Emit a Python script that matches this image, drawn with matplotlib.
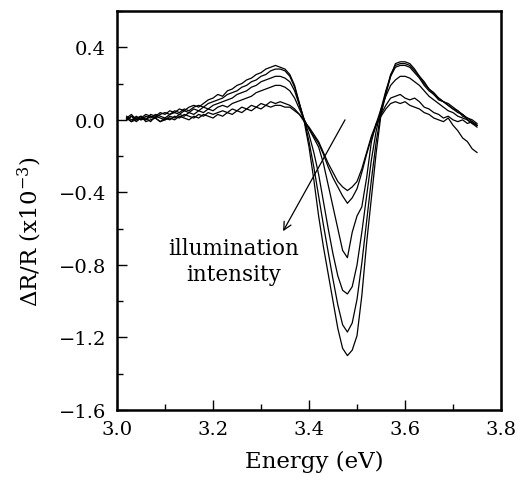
import numpy as np
import matplotlib.pyplot as plt
from matplotlib.ticker import MultipleLocator, FuncFormatter

# photon energy (eV)
energy = [3.02, 3.03, 3.04, 3.05, 3.06, 3.07, 3.08, 3.09, 3.10, 3.11,
          3.12, 3.13, 3.14, 3.15, 3.16, 3.17, 3.18, 3.19, 3.20, 3.21,
          3.22, 3.23, 3.24, 3.25, 3.26, 3.27, 3.28, 3.29, 3.30, 3.31,
          3.32, 3.33, 3.34, 3.35, 3.36, 3.37, 3.38, 3.39, 3.40, 3.41,
          3.42, 3.43, 3.44, 3.45, 3.46, 3.47, 3.48, 3.49, 3.50, 3.51,
          3.52, 3.53, 3.54, 3.55, 3.56, 3.57, 3.58, 3.59, 3.60, 3.61,
          3.62, 3.63, 3.64, 3.65, 3.66, 3.67, 3.68, 3.69, 3.70, 3.71,
          3.72, 3.73, 3.74, 3.75]

# dR/R (x1e-3), lowest to highest illumination
dr1 = [0.01, -0.01, 0.00, 0.02, -0.01, 0.00, 0.01, -0.01, 0.00, 0.01,
       0.00, 0.02, 0.01, 0.00, 0.02, 0.01, 0.03, 0.02, 0.01, 0.03,
       0.02, 0.04, 0.03, 0.05, 0.04, 0.06, 0.05, 0.07, 0.06, 0.08,
       0.07, 0.08, 0.08, 0.07, 0.07, 0.05, 0.03, -0.01, -0.04, -0.08,
       -0.12, -0.18, -0.24, -0.29, -0.34, -0.37, -0.39, -0.37, -0.34, -0.27,
       -0.18, -0.09, -0.02, 0.02, 0.06, 0.09, 0.10, 0.09, 0.10, 0.08,
       0.07, 0.06, 0.04, 0.03, 0.01, 0.00, -0.01, 0.01, -0.03, -0.06,
       -0.10, -0.12, -0.16, -0.18]
dr2 = [0.00, 0.02, -0.01, 0.01, 0.00, 0.02, 0.01, -0.01, 0.01, 0.00,
       0.02, 0.01, 0.03, 0.02, 0.01, 0.03, 0.02, 0.04, 0.03, 0.04,
       0.05, 0.04, 0.06, 0.05, 0.07, 0.06, 0.08, 0.07, 0.09, 0.08,
       0.10, 0.09, 0.10, 0.09, 0.08, 0.06, 0.03, 0.00, -0.05, -0.09,
       -0.13, -0.19, -0.26, -0.32, -0.37, -0.42, -0.46, -0.43, -0.38, -0.29,
       -0.19, -0.10, -0.03, 0.03, 0.08, 0.12, 0.13, 0.14, 0.12, 0.11,
       0.12, 0.10, 0.07, 0.06, 0.04, 0.03, 0.01, 0.02, 0.00, -0.01,
       0.00, -0.02, -0.01, -0.03]
dr3 = [0.01, -0.01, 0.02, 0.00, 0.01, -0.01, 0.02, 0.01, 0.00, 0.02,
       0.01, 0.03, 0.02, 0.04, 0.03, 0.05, 0.04, 0.06, 0.05, 0.07,
       0.08, 0.07, 0.09, 0.10, 0.11, 0.12, 0.13, 0.15, 0.16, 0.17,
       0.18, 0.19, 0.19, 0.18, 0.16, 0.12, 0.06, 0.00, -0.05, -0.10,
       -0.15, -0.24, -0.36, -0.48, -0.60, -0.72, -0.76, -0.62, -0.53, -0.48,
       -0.32, -0.12, -0.02, 0.06, 0.13, 0.19, 0.22, 0.24, 0.24, 0.23,
       0.21, 0.19, 0.16, 0.13, 0.11, 0.09, 0.07, 0.05, 0.04, 0.02,
       0.01, 0.00, -0.02, -0.04]
dr4 = [0.00, 0.02, 0.01, 0.00, 0.02, 0.01, 0.03, 0.02, 0.01, 0.03,
       0.04, 0.03, 0.05, 0.04, 0.06, 0.05, 0.07, 0.06, 0.08, 0.09,
       0.10, 0.11, 0.12, 0.14, 0.15, 0.16, 0.18, 0.19, 0.21, 0.22,
       0.23, 0.24, 0.24, 0.23, 0.21, 0.16, 0.08, 0.00, -0.08, -0.18,
       -0.30, -0.45, -0.60, -0.74, -0.86, -0.94, -0.96, -0.92, -0.80, -0.62,
       -0.42, -0.22, -0.06, 0.06, 0.16, 0.24, 0.29, 0.30, 0.30, 0.29,
       0.26, 0.23, 0.19, 0.16, 0.14, 0.11, 0.10, 0.08, 0.06, 0.04,
       0.03, 0.00, -0.02, -0.03]
dr5 = [0.01, 0.03, 0.00, 0.01, 0.03, 0.02, 0.01, 0.03, 0.04, 0.03,
       0.05, 0.04, 0.06, 0.05, 0.07, 0.08, 0.07, 0.09, 0.10, 0.11,
       0.12, 0.14, 0.15, 0.16, 0.18, 0.19, 0.21, 0.22, 0.24, 0.25,
       0.27, 0.28, 0.28, 0.27, 0.24, 0.18, 0.09, 0.00, -0.12, -0.26,
       -0.42, -0.58, -0.73, -0.88, -1.02, -1.13, -1.17, -1.12, -0.99, -0.79,
       -0.56, -0.33, -0.12, 0.04, 0.15, 0.25, 0.30, 0.31, 0.31, 0.30,
       0.27, 0.24, 0.20, 0.17, 0.15, 0.12, 0.10, 0.09, 0.07, 0.05,
       0.02, 0.01, -0.01, -0.03]
dr6 = [0.02, 0.00, 0.01, 0.02, 0.00, 0.03, 0.02, 0.04, 0.03, 0.05,
       0.04, 0.06, 0.05, 0.07, 0.08, 0.07, 0.09, 0.11, 0.12, 0.14,
       0.13, 0.16, 0.17, 0.19, 0.20, 0.22, 0.23, 0.25, 0.26, 0.28,
       0.29, 0.30, 0.29, 0.28, 0.25, 0.19, 0.09, -0.01, -0.15, -0.33,
       -0.53, -0.70, -0.85, -1.00, -1.15, -1.26, -1.30, -1.27, -1.19, -0.97,
       -0.68, -0.43, -0.18, 0.03, 0.14, 0.24, 0.31, 0.32, 0.32, 0.31,
       0.28, 0.24, 0.21, 0.17, 0.14, 0.12, 0.10, 0.08, 0.06, 0.05,
       0.03, 0.01, 0.00, -0.02]

curves = [dr1, dr2, dr3, dr4, dr5, dr6]

plt.rcParams['font.family'] = 'DejaVu Serif'
plt.rcParams['mathtext.fontset'] = 'dejavuserif'

fig = plt.figure(figsize=(5.3, 4.81), dpi=100)
ax = fig.add_axes([0.2208, 0.1455, 0.7245, 0.8295])

for c in curves:
    ax.plot(energy, c, color='black', linewidth=0.9)

ax.set_xlim(3.0, 3.8)
ax.set_ylim(-1.6, 0.6)
ax.xaxis.set_major_locator(MultipleLocator(0.2))
ax.xaxis.set_minor_locator(MultipleLocator(0.1))
ax.yaxis.set_major_locator(MultipleLocator(0.4))
ax.yaxis.set_minor_locator(MultipleLocator(0.2))
fmt = FuncFormatter(lambda v, p: ("%.1f" % v).replace("-", "\u2212"))
ax.xaxis.set_major_formatter(fmt)
ax.yaxis.set_major_formatter(fmt)
ax.tick_params(which='both', direction='in', top=False, right=False, width=1, labelsize=14)
ax.tick_params(which='major', length=7)
ax.tick_params(which='minor', length=4.5)
ax.tick_params(axis='x', pad=7)
ax.tick_params(axis='y', pad=8)
for s in ax.spines.values():
    s.set_linewidth(1.8)

ax.set_xlabel("Energy (eV)", fontsize=16.5)
ax.set_ylabel(r"$\Delta$R/R (x10$^{-3}$)", fontsize=16.5)
ax.xaxis.set_label_coords(0.513, -0.1)
ax.yaxis.set_label_coords(-0.19, 0.45)

ax.annotate("", xy=(3.346, -0.614), xytext=(3.475, 0.0),
            arrowprops=dict(arrowstyle='->', color='black', lw=0.9,
                            shrinkA=0, shrinkB=0, mutation_scale=14))
ax.text(3.244, -0.78, "illumination\nintensity", ha='center', va='center',
        multialignment='center', fontsize=15.5, linespacing=1.25)

fig.savefig("out.png", dpi=100)
